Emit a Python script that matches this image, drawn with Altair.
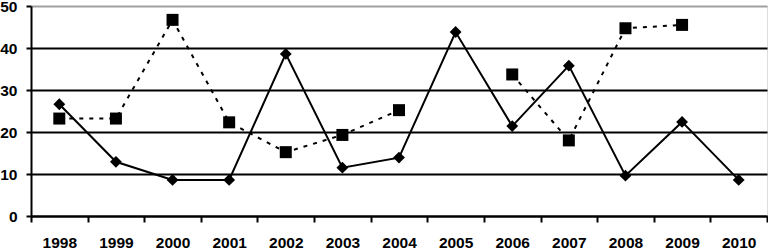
import altair as alt
import pandas as pd

years = [str(y) for y in range(1998, 2011)]
solid_vals = [26.6, 12.9, 8.6, 8.6, 38.6, 11.5, 13.9, 43.8, 21.4, 35.8, 9.6, 22.4, 8.6]
dashed_vals = [23.2, 23.2, 46.7, 22.3, 15.2, 19.3, 25.2, None, 33.7, 18.0, 44.7, 45.5, None]
dashed_seg = [1, 1, 1, 1, 1, 1, 1, None, 2, 2, 2, 2, None]

rows = []
for y, v in zip(years, solid_vals):
    rows.append({"year": y, "value": v, "series": "A", "seg": 0})
for y, v, s in zip(years, dashed_vals, dashed_seg):
    if v is not None:
        rows.append({"year": y, "value": v, "series": "B", "seg": s})
df = pd.DataFrame(rows)

FONT = "Liberation Sans"
FS = 15.5

x = alt.X(
    "year:O",
    sort=years,
    bandPosition=0.5,
    scale=alt.Scale(type="band", paddingInner=0, paddingOuter=0),
    axis=alt.Axis(
        title=None, tickBand="extent", grid=False, labelAngle=0,
        domainColor="black", domainWidth=2, tickColor="black", tickWidth=2,
        tickSize=6, labelPadding=13, labelFont=FONT, labelFontSize=FS,
        labelFontWeight="bold", labelColor="black",
    ),
)
y = alt.Y(
    "value:Q",
    scale=alt.Scale(domain=[0, 50], nice=False),
    axis=alt.Axis(
        title=None, values=[0, 10, 20, 30, 40, 50],
        ticks=True, tickSize=5, tickWidth=2, tickColor="black",
        domainColor="black", domainWidth=2,
        gridColor=alt.condition("datum.value === 50", alt.value("#a0a0a0"), alt.value("black")),
        gridWidth=2, labelPadding=9, labelFont=FONT, labelFontSize=FS,
        labelFontWeight="bold", labelColor="black",
    ),
)

base = alt.Chart(df)
a = base.transform_filter("datum.series === 'A'")
b = base.transform_filter("datum.series === 'B'")

lineA = a.mark_line(color="black", strokeWidth=2).encode(x=x, y=y)
ptsA = a.mark_point(shape="diamond", filled=True, color="black", size=140, opacity=1).encode(x=x, y=y)
lineB = b.mark_line(color="black", strokeWidth=2, strokeDash=[4, 6]).encode(x=x, y=y, detail="seg:N")
ptsB = b.mark_square(color="black", size=144, opacity=1).encode(x=x, y=y)

chart = (
    alt.layer(lineB, lineA, ptsB, ptsA)
    .properties(
        width=736, height=210,
        autosize=alt.AutoSizeParams(type="none"),
        padding={"left": 31, "top": 6, "right": 1, "bottom": 33},
    )
    .configure_view(stroke="#a0a0a0", strokeWidth=2)
    .configure(background="white")
)

chart.save("out.html", embed_options={"renderer": "svg", "actions": False})
